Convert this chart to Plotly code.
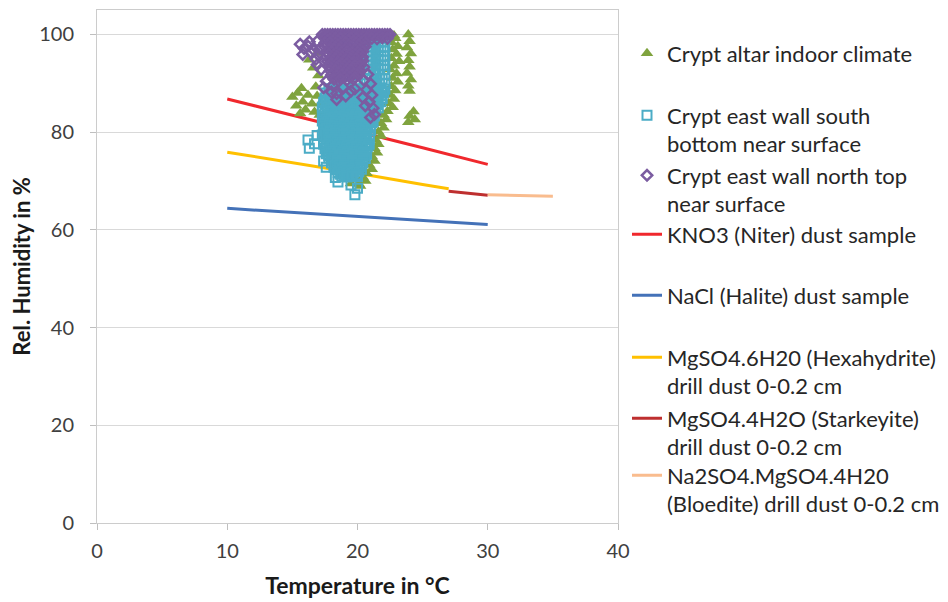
import plotly.graph_objects as go

# ------------------------------------------------------------------ data
x_ticks = [0, 10, 20, 30, 40]
y_ticks = [0, 20, 40, 60, 80, 100]

# deliquescence / phase-transition lines
kno3_t = [10, 15, 20, 25, 30]
kno3_rh = [86.8, 83.5, 80.1, 76.8, 73.4]
nacl_t = [10, 20, 30]
nacl_rh = [64.4, 62.8, 61.1]
hexa_t = [10, 15, 20, 25, 27]
hexa_rh = [75.9, 73.8, 71.6, 69.3, 68.4]
stark_t = [27, 30]
stark_rh = [67.9, 67.1]
bloed_t = [30, 35]
bloed_rh = [67.2, 66.9]

# Crypt altar indoor climate (temperature, RH)
altar_pts = [
    (23.9, 100.0), (24.0, 98.6), (23.8, 97.3), (24.1, 96.1), (23.9, 94.7), (24.0, 93.4),
    (23.8, 92.1), (24.1, 90.8), (23.9, 89.5), (24.0, 88.4), (24.3, 84.2), (24.0, 83.3),
    (24.4, 82.6), (23.9, 82.0), (22.8, 99.8),
    (22.9, 99.2), (22.6, 98.4), (23.1, 97.6), (22.7, 96.9), (23.0, 96.0), (22.6, 95.1),
    (23.2, 94.5), (22.8, 93.6), (22.5, 92.8), (23.0, 92.0), (22.7, 91.1), (23.1, 90.3),
    (22.6, 89.4), (22.9, 88.5), (22.5, 87.6), (22.8, 86.8), (22.4, 85.9), (22.7, 85.1),
    (22.3, 84.3), (22.0, 83.5), (22.2, 82.6), (21.8, 81.8), (22.0, 80.9), (21.6, 80.1),
    (21.8, 79.2), (21.4, 78.4), (21.6, 77.5), (21.3, 76.7), (21.5, 75.8), (21.1, 75.0),
    (21.3, 74.1), (20.9, 73.3), (21.1, 72.4), (20.7, 71.6), (20.4, 70.8), (20.6, 70.0),
    (20.1, 69.4), (19.8, 70.3), (20.3, 72.0), (19.5, 69.5), (20.2, 69.0),
    (15.7, 89.0), (16.8, 89.3), (15.0, 87.2), (15.4, 88.0), (16.2, 87.6), (16.9, 87.4),
    (15.8, 86.2), (16.5, 85.8), (17.2, 86.0), (15.3, 85.4), (16.0, 84.6), (16.7, 84.1),
    (17.1, 83.5), (15.6, 83.8),
    (16.6, 93.2), (17.0, 91.6), (16.3, 94.8), (16.9, 96.2),
]

# Crypt east wall south bottom near surface (temperature, RH)
south_pts = [
    (21.0, 99.4), (21.4, 99.5), (21.8, 99.3), (22.1, 99.4),
    (20.8, 98.5), (21.2, 98.6), (21.6, 98.4), (22.0, 98.5),
    (21.0, 97.5), (21.4, 97.6), (21.8, 97.4), (22.1, 97.5),
    (20.8, 96.6), (21.2, 96.5), (21.6, 96.7), (22.0, 96.6),
    (21.0, 95.6), (21.4, 95.7), (21.8, 95.5), (22.1, 95.6),
    (20.8, 94.7), (21.2, 94.6), (21.6, 94.8), (22.0, 94.7),
    (21.0, 93.7), (21.4, 93.8), (21.8, 93.6), (22.1, 93.7),
    (20.8, 92.8), (21.2, 92.7), (21.6, 92.9), (22.0, 92.8),
    (20.9, 91.8), (21.3, 91.9), (21.7, 91.7), (22.1, 91.8),
    (20.7, 90.9), (21.1, 90.8), (21.5, 91.0), (21.9, 90.9),
    (18.3, 89.9), (19.1, 90.0), (19.9, 89.8), (20.5, 89.9), (20.9, 90.0), (21.3, 89.8),
    (21.7, 89.9), (22.1, 90.0),
    (17.8, 88.9), (18.2, 89.0), (18.6, 88.8), (19.0, 88.9), (19.4, 89.0), (19.8, 88.8),
    (20.2, 88.9), (20.6, 89.0), (21.0, 88.8), (21.4, 88.9), (21.8, 89.0), (22.1, 88.8),
    (18.0, 88.4), (18.4, 88.5), (18.8, 88.4), (19.2, 88.5), (19.6, 88.4), (20.0, 88.5),
    (20.4, 88.4), (20.8, 88.5), (21.2, 88.4), (21.6, 88.5), (21.9, 88.4),
    (17.6, 88.0), (18.0, 87.9), (18.4, 88.1), (18.8, 88.0), (19.2, 87.9), (19.6, 88.1),
    (20.0, 88.0), (20.4, 87.9), (20.8, 88.1), (21.2, 88.0), (21.6, 87.9), (22.0, 88.1),
    (17.8, 87.5), (18.2, 87.4), (18.6, 87.5), (19.0, 87.6), (19.4, 87.5), (19.8, 87.4),
    (20.2, 87.5), (20.6, 87.6), (21.0, 87.5), (21.4, 87.4), (21.8, 87.5),
    (17.5, 87.0), (17.9, 87.1), (18.3, 86.9), (18.7, 87.0), (19.1, 87.1), (19.5, 86.9),
    (19.9, 87.0), (20.3, 87.1), (20.7, 86.9), (21.1, 87.0), (21.5, 87.1), (21.9, 86.9),
    (17.6, 86.5), (18.0, 86.6), (18.4, 86.5), (18.8, 86.6), (19.2, 86.5), (19.6, 86.6),
    (20.0, 86.5), (20.4, 86.6), (20.8, 86.5), (21.2, 86.6), (21.6, 86.5),
    (17.4, 86.1), (17.8, 86.0), (18.2, 86.2), (18.6, 86.1), (19.0, 86.0), (19.4, 86.2),
    (19.8, 86.1), (20.2, 86.0), (20.6, 86.2), (21.0, 86.1), (21.4, 86.0), (21.8, 86.2),
    (17.6, 85.6), (18.0, 85.7), (18.4, 85.6), (18.8, 85.5), (19.2, 85.6), (19.6, 85.7),
    (20.0, 85.6), (20.4, 85.5), (20.8, 85.6), (21.2, 85.7), (21.5, 85.6),
    (17.3, 85.1), (17.7, 85.2), (18.1, 85.0), (18.5, 85.1), (18.9, 85.2), (19.3, 85.0),
    (19.7, 85.1), (20.1, 85.2), (20.5, 85.0), (20.9, 85.1), (21.3, 85.2), (21.6, 85.0),
    (17.5, 84.6), (17.9, 84.7), (18.3, 84.6), (18.7, 84.7), (19.1, 84.6), (19.5, 84.7),
    (19.9, 84.6), (20.3, 84.7), (20.7, 84.6), (21.1, 84.7), (21.4, 84.6),
    (17.3, 84.2), (17.7, 84.1), (18.1, 84.3), (18.5, 84.2), (18.9, 84.1), (19.3, 84.3),
    (19.7, 84.2), (20.1, 84.1), (20.5, 84.3), (20.9, 84.2), (21.3, 84.1),
    (17.5, 83.7), (17.9, 83.6), (18.3, 83.7), (18.7, 83.8), (19.1, 83.7), (19.5, 83.6),
    (19.9, 83.7), (20.3, 83.8), (20.7, 83.7), (21.1, 83.6),
    (17.4, 83.2), (17.8, 83.3), (18.2, 83.1), (18.6, 83.2), (19.0, 83.3), (19.4, 83.1),
    (19.8, 83.2), (20.2, 83.3), (20.6, 83.1), (21.0, 83.2), (21.3, 83.3),
    (17.6, 82.7), (18.0, 82.8), (18.4, 82.7), (18.8, 82.8), (19.2, 82.7), (19.6, 82.8),
    (20.0, 82.7), (20.4, 82.8), (20.8, 82.7), (21.1, 82.8),
    (17.3, 82.3), (17.7, 82.2), (18.1, 82.4), (18.5, 82.3), (18.9, 82.2), (19.3, 82.4),
    (19.7, 82.3), (20.1, 82.2), (20.5, 82.4), (20.9, 82.3), (21.2, 82.2),
    (17.5, 81.8), (17.9, 81.9), (18.3, 81.8), (18.7, 81.7), (19.1, 81.8), (19.5, 81.9),
    (19.9, 81.8), (20.3, 81.7), (20.7, 81.8), (21.1, 81.9),
    (17.4, 81.3), (17.8, 81.4), (18.2, 81.2), (18.6, 81.3), (19.0, 81.4), (19.4, 81.2),
    (19.8, 81.3), (20.2, 81.4), (20.6, 81.2), (21.0, 81.3),
    (17.6, 80.9), (18.0, 80.8), (18.4, 80.9), (18.8, 80.8), (19.2, 80.9), (19.6, 80.8),
    (20.0, 80.9), (20.4, 80.8), (20.8, 80.9),
    (17.4, 80.4), (17.8, 80.3), (18.2, 80.5), (18.6, 80.4), (19.0, 80.3), (19.4, 80.5),
    (19.8, 80.4), (20.2, 80.3), (20.6, 80.5), (21.0, 80.4),
    (17.5, 79.9), (17.9, 80.0), (18.3, 79.9), (18.7, 79.8), (19.1, 79.9), (19.5, 80.0),
    (19.9, 79.9), (20.3, 79.8), (20.7, 79.9),
    (17.3, 79.4), (17.7, 79.5), (18.1, 79.3), (18.5, 79.4), (18.9, 79.5), (19.3, 79.3),
    (19.7, 79.4), (20.1, 79.5), (20.5, 79.3), (20.9, 79.4),
    (17.5, 79.0), (17.9, 78.9), (18.3, 79.0), (18.7, 79.0), (19.1, 78.9), (19.5, 79.0),
    (19.9, 78.9), (20.3, 79.0), (20.7, 78.9),
    (17.4, 78.5), (17.8, 78.4), (18.2, 78.6), (18.6, 78.5), (19.0, 78.4), (19.4, 78.6),
    (19.8, 78.5), (20.2, 78.4), (20.6, 78.6), (20.9, 78.5),
    (17.6, 78.0), (18.0, 78.1), (18.4, 78.0), (18.8, 77.9), (19.2, 78.0), (19.6, 78.1),
    (20.0, 78.0), (20.4, 77.9), (20.7, 78.0),
    (17.4, 77.5), (17.8, 77.6), (18.2, 77.4), (18.6, 77.5), (19.0, 77.6), (19.4, 77.4),
    (19.8, 77.5), (20.2, 77.6), (20.6, 77.4), (20.9, 77.5),
    (17.6, 77.1), (18.0, 77.0), (18.4, 77.1), (18.8, 77.0), (19.2, 77.1), (19.6, 77.0),
    (20.0, 77.1), (20.4, 77.0), (20.8, 77.1),
    (17.5, 76.6), (17.9, 76.5), (18.3, 76.7), (18.7, 76.6), (19.1, 76.5), (19.5, 76.7),
    (19.9, 76.6), (20.3, 76.5), (20.7, 76.7),
    (17.7, 76.1), (18.1, 76.2), (18.5, 76.1), (18.9, 76.0), (19.3, 76.1), (19.7, 76.2),
    (20.1, 76.1), (20.5, 76.0),
    (17.6, 75.6), (18.0, 75.7), (18.4, 75.5), (18.8, 75.6), (19.2, 75.7), (19.6, 75.5),
    (20.0, 75.6), (20.4, 75.7), (20.7, 75.5),
    (17.8, 75.2), (18.2, 75.1), (18.6, 75.2), (19.0, 75.1), (19.4, 75.2), (19.8, 75.1),
    (20.2, 75.2), (20.5, 75.1),
    (17.8, 74.7), (18.2, 74.6), (18.6, 74.8), (19.0, 74.7), (19.4, 74.6), (19.8, 74.8),
    (20.2, 74.7), (20.6, 74.6),
    (18.0, 74.2), (18.4, 74.3), (18.8, 74.2), (19.2, 74.1), (19.6, 74.2), (20.0, 74.3),
    (20.4, 74.2),
    (18.0, 73.7), (18.4, 73.8), (18.8, 73.6), (19.2, 73.7), (19.6, 73.8), (20.0, 73.6),
    (20.4, 73.7),
    (18.2, 73.2), (18.6, 73.3), (19.0, 73.2), (19.4, 73.3), (19.8, 73.2), (20.2, 73.3),
    (18.2, 72.8), (18.6, 72.7), (19.0, 72.9), (19.4, 72.8), (19.8, 72.7), (20.2, 72.9),
    (18.4, 72.3), (18.8, 72.4), (19.2, 72.3), (19.6, 72.2), (20.0, 72.3), (20.3, 72.4),
    (18.5, 71.8), (18.9, 71.9), (19.3, 71.7), (19.7, 71.8), (20.1, 71.9),
    (18.7, 71.4), (19.1, 71.3), (19.5, 71.4), (19.9, 71.3),
    (18.8, 70.9), (19.2, 70.8), (19.6, 71.0), (20.0, 70.9),
    (16.2, 78.4), (16.3, 76.7), (16.7, 77.6), (16.9, 79.3), (17.6, 72.8), (17.4, 74.1),
    (18.5, 69.8), (18.3, 70.7), (19.8, 67.2), (20.0, 68.5), (19.5, 69.2),
]

# Crypt east wall north top near surface (temperature, RH)
north_pts = [
    (17.3, 100.0), (17.5, 100.0), (17.7, 100.0), (17.9, 100.0), (18.1, 100.0), (18.3, 100.0),
    (18.5, 100.0), (18.7, 100.0), (18.9, 100.0), (19.1, 100.0), (19.3, 100.0), (19.5, 100.0),
    (19.7, 100.0), (19.9, 100.0), (20.1, 100.0), (20.3, 100.0), (20.5, 100.0), (20.7, 100.0),
    (20.9, 100.0), (21.1, 100.0), (21.3, 100.0), (21.5, 100.0), (21.7, 100.0), (21.9, 100.0),
    (22.1, 100.0), (22.3, 100.0), (22.5, 100.0),
    (17.5, 99.2), (17.9, 99.1), (18.3, 99.3), (18.7, 99.2), (19.1, 99.1), (19.5, 99.3),
    (19.9, 99.2), (20.3, 99.1), (20.7, 99.3), (21.1, 99.2), (21.5, 99.1), (21.9, 99.3),
    (22.3, 99.2),
    (17.7, 98.8), (18.1, 98.7), (18.5, 98.8), (18.9, 98.7), (19.3, 98.8), (19.7, 98.7),
    (20.1, 98.8), (20.5, 98.7),
    (17.5, 98.3), (17.9, 98.4), (18.3, 98.2), (18.7, 98.3), (19.1, 98.4), (19.5, 98.2),
    (19.9, 98.3), (20.3, 98.4), (20.6, 98.2),
    (17.7, 97.9), (18.1, 97.8), (18.5, 97.9), (18.9, 97.8), (19.3, 97.9), (19.7, 97.8),
    (20.1, 97.9), (20.5, 97.8),
    (17.5, 97.4), (17.9, 97.3), (18.3, 97.5), (18.7, 97.4), (19.1, 97.3), (19.5, 97.5),
    (19.9, 97.4), (20.3, 97.3), (20.6, 97.5),
    (17.8, 96.9), (18.2, 97.0), (18.6, 96.9), (19.0, 96.8), (19.4, 96.9), (19.8, 97.0),
    (20.2, 96.9),
    (17.6, 96.4), (18.0, 96.5), (18.4, 96.3), (18.8, 96.4), (19.2, 96.5), (19.6, 96.3),
    (20.0, 96.4), (20.4, 96.5),
    (17.8, 96.0), (18.2, 95.9), (18.6, 96.0), (19.0, 95.9), (19.4, 96.0), (19.8, 95.9),
    (20.2, 96.0),
    (17.6, 95.5), (18.0, 95.4), (18.4, 95.6), (18.8, 95.5), (19.2, 95.4), (19.6, 95.6),
    (20.0, 95.5), (20.4, 95.4),
    (17.9, 95.0), (18.3, 95.1), (18.7, 95.0), (19.1, 94.9), (19.5, 95.0), (19.9, 95.1),
    (20.3, 95.0),
    (17.7, 94.5), (18.1, 94.6), (18.5, 94.4), (18.9, 94.5), (19.3, 94.6), (19.7, 94.4),
    (20.1, 94.5), (20.4, 94.6),
    (18.0, 94.1), (18.4, 94.0), (18.8, 94.1), (19.2, 94.0), (19.6, 94.1), (20.0, 94.0),
    (17.8, 93.6), (18.2, 93.5), (18.6, 93.7), (19.0, 93.6), (19.4, 93.5), (19.8, 93.7),
    (20.2, 93.6),
    (18.0, 93.1), (18.4, 93.2), (18.8, 93.1), (19.2, 93.0), (19.6, 93.1), (20.0, 93.2),
    (17.9, 92.6), (18.3, 92.7), (18.7, 92.5), (19.1, 92.6), (19.5, 92.7), (19.9, 92.5),
    (20.2, 92.6),
    (18.1, 92.1), (18.5, 92.2), (18.9, 92.1), (19.3, 92.2), (19.7, 92.1), (20.1, 92.2),
    (18.0, 91.7), (18.4, 91.6), (18.8, 91.8), (19.2, 91.7), (19.6, 91.6), (20.0, 91.8),
    (18.2, 91.2), (18.6, 91.3), (19.0, 91.2), (19.4, 91.3), (19.8, 91.2),
    (18.2, 90.8), (18.7, 90.9), (19.2, 90.7), (19.7, 90.8),
    (18.1, 89.6), (18.9, 89.2), (19.5, 88.4), (18.4, 87.9), (19.1, 87.4), (19.8, 88.9),
    (15.6, 98.0), (15.9, 97.1), (16.2, 97.6), (16.4, 96.3), (15.8, 95.9), (16.8, 94.9),
    (16.6, 96.9), (17.0, 95.8), (17.2, 92.8), (16.9, 93.8), (17.1, 97.0), (17.4, 89.1),
    (17.6, 90.4), (18.0, 88.2), (18.4, 86.7), (16.3, 98.5), (16.9, 98.6),
    (20.5, 93.3), (20.8, 91.8), (20.5, 90.6), (21.0, 89.9), (20.7, 88.7), (21.1, 87.6),
    (20.4, 87.1), (20.9, 86.2), (21.2, 84.9), (20.6, 85.4), (21.3, 83.6), (21.0, 83.0),
]

names = [
    "Crypt altar indoor climate",
    "Crypt east wall south<br>bottom near surface",
    "Crypt east wall north top<br>near surface",
    "KNO3 (Niter) dust sample",
    "NaCl (Halite) dust sample",
    "MgSO4.6H20 (Hexahydrite)<br>drill dust 0-0.2 cm",
    "MgSO4.4H2O (Starkeyite)<br>drill dust 0-0.2 cm",
    "Na2SO4.MgSO4.4H20<br>(Bloedite) drill dust 0-0.2 cm",
]

# ------------------------------------------------------------------ layout helpers
OFF = 8                                    # page body margin of the html page
W, H = 948 - OFF, 602 - OFF                # figure size
PL, PR, PT, PB = 97 - OFF, 618 - OFF, 10 - OFF, 523 - OFF   # plot area (figure px)
FONT = "Lato"
legend_first_line_px = [54, 116, 176, 235, 296, 358, 419, 476]   # page px
legend_text_px = 667                                              # page px


def legend_key(i):
    return "legend" if i == 0 else f"legend{i + 1}"


fig = go.Figure()

line_specs = [
    (3, kno3_t, kno3_rh, "#F0282D"),
    (4, nacl_t, nacl_rh, "#4472B8"),
    (5, hexa_t, hexa_rh, "#FFC000"),
    (6, stark_t, stark_rh, "#BE2F2F"),
    (7, bloed_t, bloed_rh, "#F9BC8E"),
]
for idx, xs, ys, col in line_specs:
    fig.add_trace(go.Scatter(
        x=xs, y=ys, mode="lines", name=names[idx],
        line=dict(color=col, width=3),
        legend=legend_key(idx), showlegend=True,
    ))

fig.add_trace(go.Scatter(
    x=[p[0] for p in altar_pts], y=[p[1] for p in altar_pts], mode="markers",
    name=names[0], legend=legend_key(0), showlegend=True,
    marker=dict(symbol="triangle-up", size=11, color="#7FA33E", line=dict(width=0)),
))
fig.add_trace(go.Scatter(
    x=[p[0] for p in south_pts], y=[p[1] for p in south_pts], mode="markers",
    name=names[1], legend=legend_key(1), showlegend=True,
    marker=dict(symbol="square-open", size=9, color="#4BACC6", line=dict(width=2)),
))
fig.add_trace(go.Scatter(
    x=[p[0] for p in north_pts], y=[p[1] for p in north_pts], mode="markers",
    name=names[2], legend=legend_key(2), showlegend=True,
    marker=dict(symbol="diamond-open", size=8, color="#7B5CA1", line=dict(width=2.5)),
))

axis_common = dict(
    showline=True, linecolor="#CCCCCC", linewidth=1, mirror=True,
    ticks="outside", ticklen=6, tickcolor="#BFBFBF",
    zeroline=False,
    tickfont=dict(family=FONT, size=20, color="#404040"),
)

layout = dict(
    width=W, height=H,
    margin=dict(l=PL, r=W - PR, t=PT, b=H - PB, autoexpand=False),
    paper_bgcolor="white", plot_bgcolor="white",
    showlegend=True,
    xaxis=dict(
        range=[0, 40], tickvals=x_ticks, showgrid=False,
        ticklabelstandoff=4,
        title=dict(text="<b>Temperature in °C</b>", standoff=16,
                   font=dict(family=FONT, size=23, color="#1A1A1A")),
        **axis_common,
    ),
    yaxis=dict(
        range=[0, 105], tickvals=y_ticks, showgrid=True, gridcolor="#D9D9D9",
        ticklabelstandoff=12,
        title=dict(text="<b>Rel. Humidity in %</b>", standoff=12,
                   font=dict(family=FONT, size=22, color="#1A1A1A")),
        **axis_common,
    ),
)

plot_w = PR - PL
plot_h = PB - PT
for i, cy in enumerate(legend_first_line_px):
    top_px = cy - OFF - 21.5
    layout[legend_key(i)] = dict(
        x=(legend_text_px - OFF - 40 - PL) / plot_w,
        y=(PB - top_px) / plot_h,
        xanchor="left", yanchor="top", valign="top",
        bgcolor="rgba(0,0,0,0)", borderwidth=0,
        font=dict(family=FONT, size=22, color="#262626"),
    )

fig.update_layout(**layout)
fig.write_html("out.html")
